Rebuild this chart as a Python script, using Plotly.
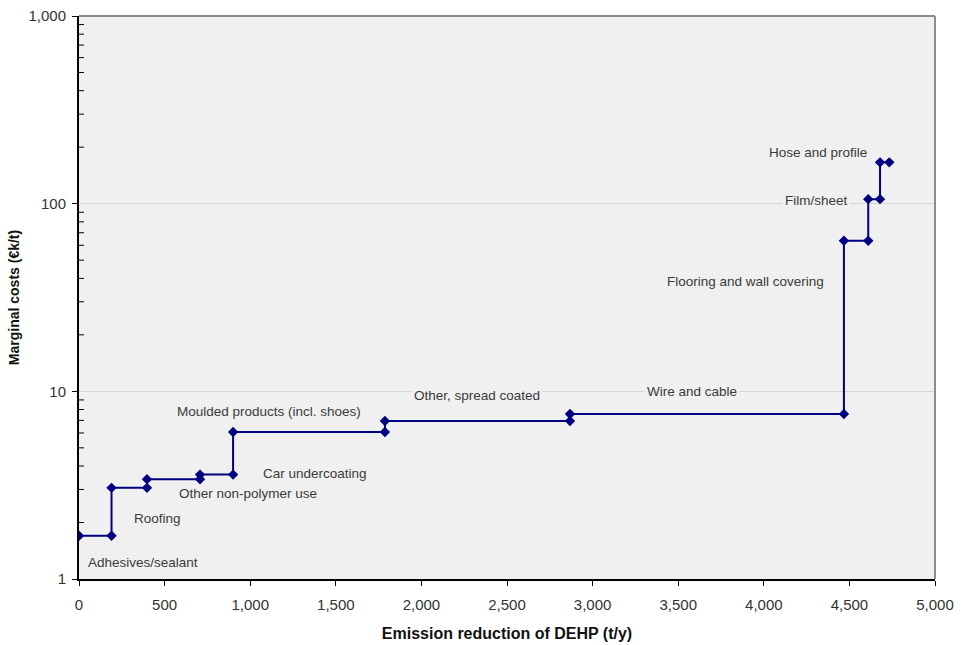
import math
import numpy as np
import plotly.graph_objects as go

# Sectors in order of increasing marginal cost
sectors = [
    "Adhesives/sealant",
    "Roofing",
    "Other non-polymer use",
    "Car undercoating",
    "Moulded products (incl. shoes)",
    "Other, spread coated",
    "Wire and cable",
    "Flooring and wall covering",
    "Film/sheet",
    "Hose and profile",
]
# Emission reduction achieved in each sector (t/y)
reduction = [190, 207, 310, 193, 887, 1081, 1600, 142, 69, 54]
# Marginal cost of each sector (€k/t)
marginal_cost = [1.7, 3.06, 3.4, 3.6, 6.07, 6.95, 7.57, 63.4, 105.7, 166.0]

# Label anchor positions (x in t/y, y in €k/t)
label_x = [374, 459, 987, 1381, 1110, 2325, 3578, 3893, 4308, 4317]
label_y = [1.232, 2.09, 2.84, 3.63, 7.85, 9.55, 9.95, 38.4, 103.6, 188.4]
label_bg = [False, False, False, False, False, True, True, False, True, False]

x_ticks = list(range(0, 5001, 500))
y_ticks = [1, 10, 100, 1000]
y_tick_text = ["1", "10", "100", "1,000"]
y_minor = [m * 10 ** d for d in range(0, 3) for m in range(2, 10)]

# Build the step curve: each sector spans [start, end] at its cost
ends = np.cumsum(reduction)
starts = np.concatenate([[0], ends[:-1]])
xs, ys = [], []
for s, e, c in zip(starts, ends, marginal_cost):
    xs += [float(s), float(e)]
    ys += [c, c]

navy = "#000080"
fig = go.Figure()
fig.add_trace(go.Scatter(
    x=xs, y=ys, mode="lines+markers",
    line=dict(color=navy, width=2),
    marker=dict(symbol="diamond", size=8, color=navy),
    hoverinfo="skip", showlegend=False,
))

font_main = "Liberation Sans, Arial, sans-serif"
annotations = []
for name, lx, ly, bg in zip(sectors, label_x, label_y, label_bg):
    annotations.append(dict(
        x=lx, y=math.log10(ly), xref="x", yref="y", text=name,
        showarrow=False, font=dict(family=font_main, size=13.5, color="#3a3a3a"),
        bgcolor="#f0f0f0" if bg else "rgba(0,0,0,0)", borderpad=2,
        xanchor="center", yanchor="middle",
    ))

# Plot frame on the top and right edges, and inward minor ticks on the log axis
shapes = [
    dict(type="line", xref="paper", yref="paper", x0=0, x1=1, y0=1, y1=1,
         line=dict(color="#8c8c8c", width=2)),
    dict(type="line", xref="paper", yref="paper", x0=1, x1=1, y0=0, y1=1,
         line=dict(color="#8c8c8c", width=2)),
]
plot_w = 965 - 79 - 30
for v in y_minor:
    shapes.append(dict(type="line", xref="paper", yref="y",
                       x0=0, x1=5 / plot_w, y0=v, y1=v,
                       line=dict(color="black", width=1)))

fig.update_layout(
    width=965, height=645,
    margin=dict(l=79, r=30, t=16, b=66, autoexpand=False),
    paper_bgcolor="white", plot_bgcolor="#f0f0f0",
    font=dict(family=font_main, size=14, color="#333333"),
    annotations=annotations,
    shapes=shapes,
    xaxis=dict(
        range=[0, 5000], tickvals=x_ticks, tickformat=",d",
        showgrid=False, zeroline=False, automargin=False,
        showline=True, linecolor="black", linewidth=2,
        ticks="outside", ticklen=5, tickcolor="black", tickwidth=1,
        ticklabelstandoff=6,
        tickfont=dict(size=15, color="#333333"),
        title=dict(text="<b>Emission reduction of DEHP (t/y)</b>",
                   font=dict(size=16, color="#111111"), standoff=16),
    ),
    yaxis=dict(
        type="log", range=[0, 3], tickvals=y_ticks, ticktext=y_tick_text,
        showgrid=True, gridcolor="#d4d4d4", gridwidth=1, zeroline=False,
        automargin=False,
        showline=True, linecolor="black", linewidth=2,
        ticks="outside", ticklen=5, tickcolor="black", tickwidth=1,
        ticklabelstandoff=3,
        tickfont=dict(size=15, color="#333333"),
        title=dict(text="<b>Marginal costs (€k/t)</b>",
                   font=dict(size=14, color="#111111"), standoff=6),
    ),
)

fig.write_html("out.html")
